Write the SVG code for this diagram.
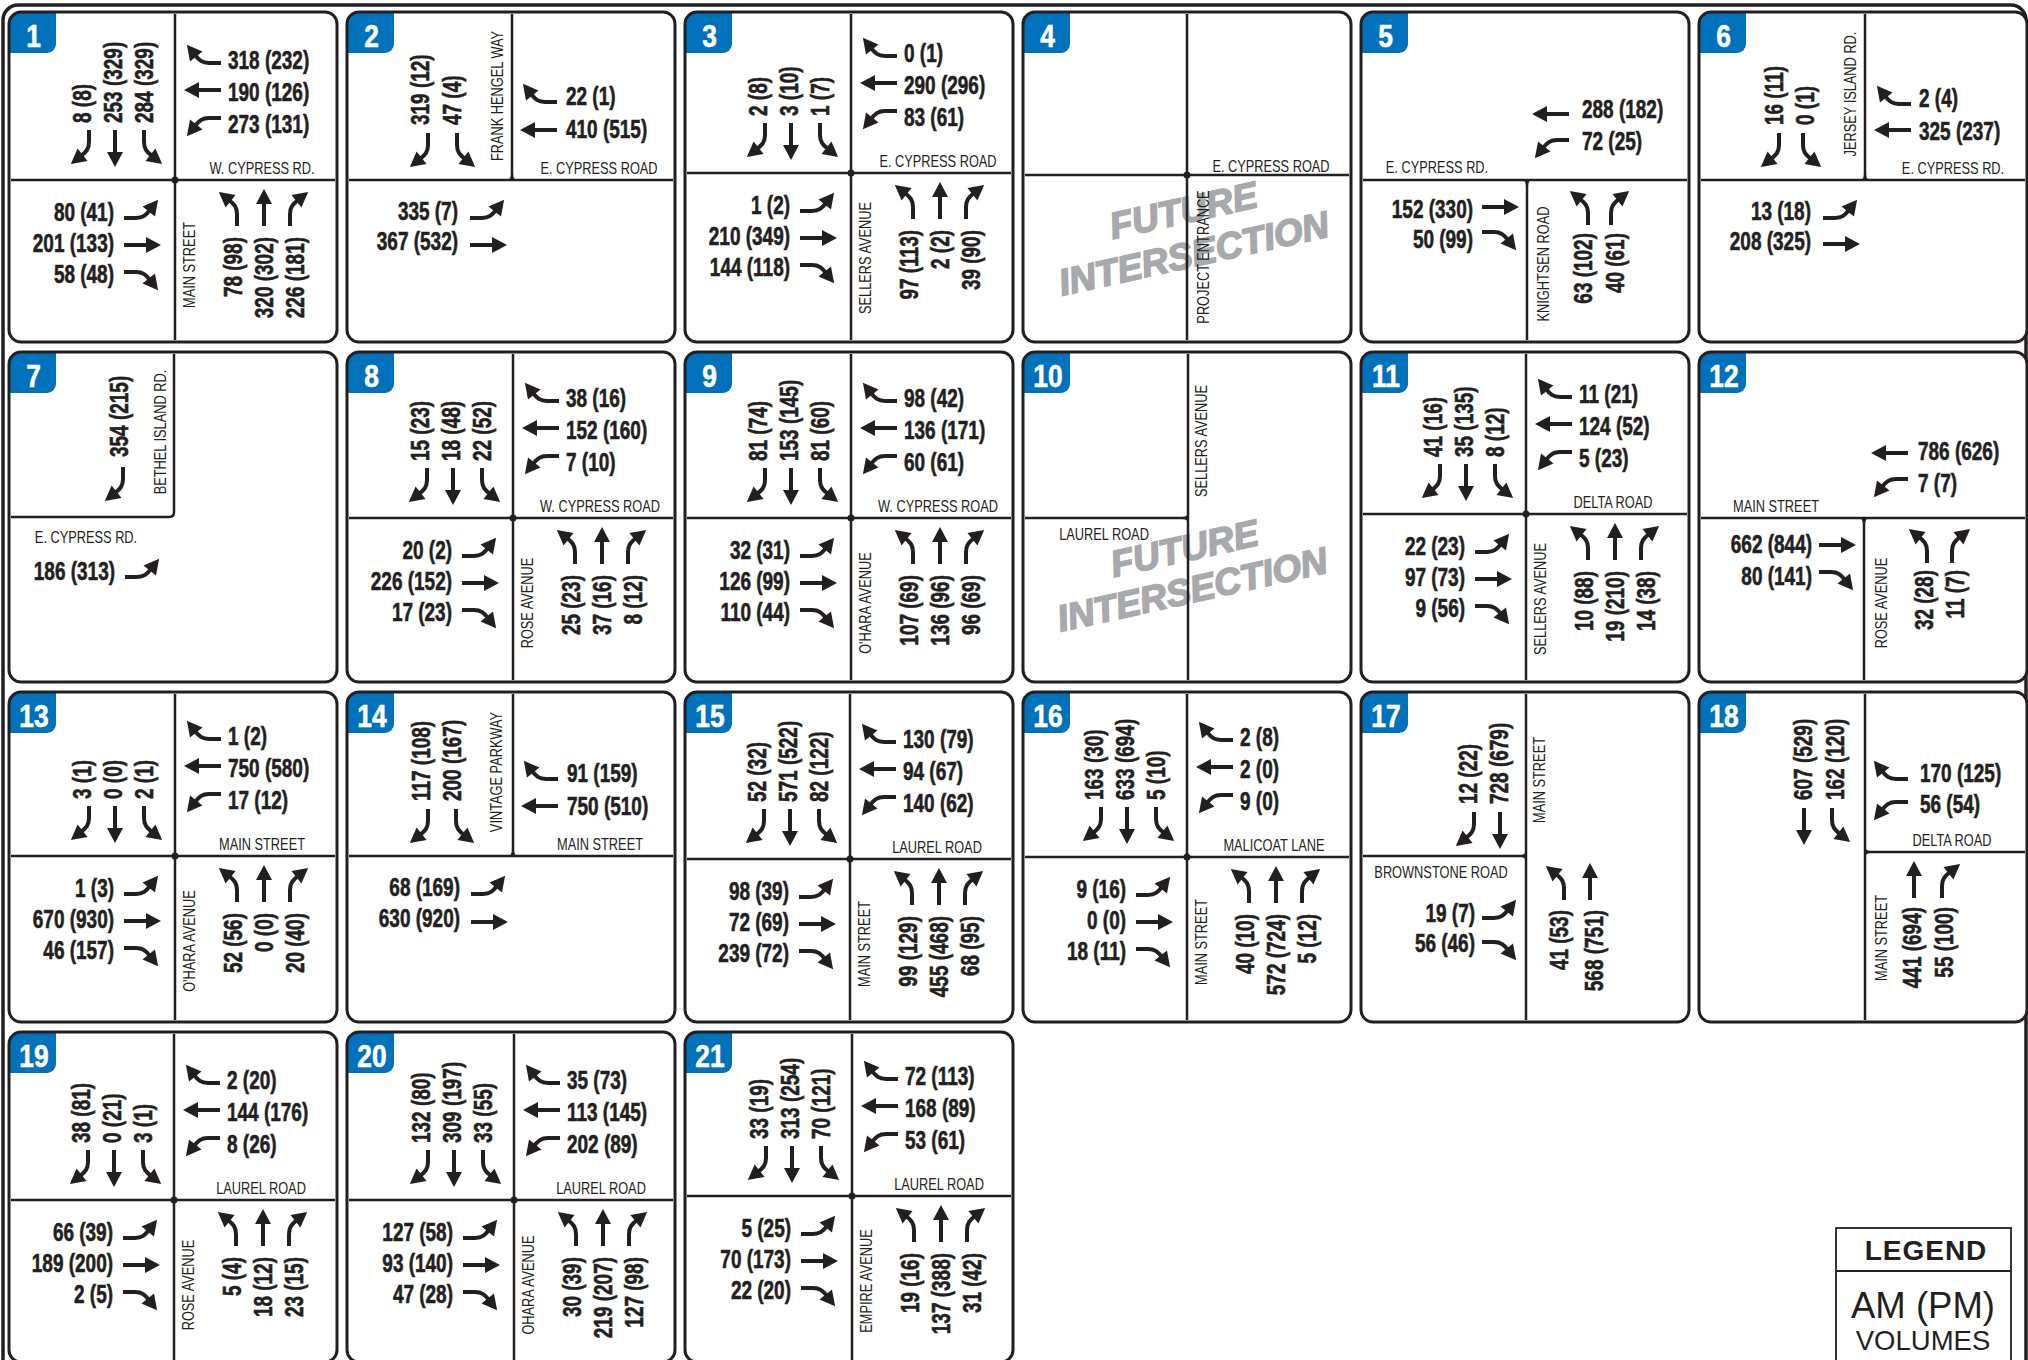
<svg xmlns="http://www.w3.org/2000/svg" width="2028" height="1360" viewBox="0 0 2028 1360">
<style>
.pf{fill:#fff}
.ps{fill:none;stroke:#231f20;stroke-width:3}
.bd{fill:#0072bc}
.bn{font-family:"Liberation Sans",Arial,sans-serif;font-weight:bold;font-size:31px;fill:#fff;stroke:#fff;stroke-width:.6;text-anchor:middle}
.n{font-family:"Liberation Sans",Arial,sans-serif;font-weight:bold;font-size:26px;fill:#231f20;stroke:#231f20;stroke-width:.6}
.e{text-anchor:end}
.r{font-family:"Liberation Sans",Arial,sans-serif;font-size:16px;fill:#231f20;text-anchor:middle}
.rd{fill:none;stroke:#231f20;stroke-width:2.5}
.dot{fill:#231f20}
.a{fill:none;stroke:#231f20;stroke-width:4;marker-end:url(#h)}
.fi{font-family:"Liberation Sans",Arial,sans-serif;font-weight:bold;font-style:italic;font-size:37px;fill:#a7a9ac;stroke:#a7a9ac;stroke-width:1.6;text-anchor:middle}
.lg{font-family:"Liberation Sans",Arial,sans-serif;fill:#231f20;text-anchor:middle}
</style>
<defs>
<marker id="h" markerUnits="userSpaceOnUse" orient="auto" overflow="visible" markerWidth="20" markerHeight="20"><path d="M-2,-8L13,0L-2,8Z" fill="#231f20"/></marker>
<path id="at" class="a" d="M0,0V24"/>
<path id="ar" class="a" d="M0,0V12C0,19 -3,22 -8,26"/>
<path id="al" class="a" d="M0,0V12C0,19 3,22 8,26"/>
<path id="fil" d="M-6,0Q-1,0 -1,-6L1,-6Q1,0 6,0Z" fill="#231f20"/>
<path id="bdg" class="bd" d="M0,12A12,12 0 0 1 12,0H47V32A9,9 0 0 1 38,41H0Z"/>
<g id="a4">
<use href="#ar" x="-86" y="-50"/><use href="#at" x="-60" y="-50"/><use href="#al" x="-31" y="-50"/>
<use href="#ar" transform="translate(46,-117) rotate(90)"/><use href="#at" transform="translate(46,-90) rotate(90)"/><use href="#al" transform="translate(46,-62) rotate(90)"/>
<use href="#al" transform="translate(-51,38) rotate(-90)"/><use href="#at" transform="translate(-51,65) rotate(-90)"/><use href="#ar" transform="translate(-51,92) rotate(-90)"/>
<use href="#al" transform="translate(62,46) rotate(180)"/><use href="#at" transform="translate(89,46) rotate(180)"/><use href="#ar" transform="translate(115,46) rotate(180)"/>
</g>
</defs>
<rect width="2028" height="1360" fill="#fff"/>
<path d="M3,1360V20A15,15 0 0 1 18,5H2011A15,15 0 0 1 2026,20V1360" fill="none" stroke="#231f20" stroke-width="3.5"/>

<g id="n1" transform="translate(9,12)">
<rect class="pf" width="328" height="330" rx="12"/><use href="#bdg"/><text class="bn" transform="translate(24.5,35) scale(.85,1)">1</text>
<g transform="translate(166,168)">
<path class="rd" d="M-164,0H160M0,-166V160"/><circle class="dot" r="3.5"/>
<text class="r" transform="translate(87,-6) scale(.8,1)">W. CYPRESS RD.</text>
<text class="r" transform="translate(20,85) rotate(-90) scale(.8,1)">MAIN STREET</text>
<g class="n" transform="translate(0,-57) rotate(-90) scale(.73,1)"><text y="-84">8 (8)</text><text y="-53">253 (329)</text><text y="-22">284 (329)</text></g>
<g class="n" transform="translate(53,0) scale(.73,1)"><text y="-111">318 (232)</text><text y="-79">190 (126)</text><text y="-47">273 (131)</text></g>
<g class="n e" transform="translate(-61,0) scale(.73,1)"><text y="41">80 (41)</text><text y="72">201 (133)</text><text y="103">58 (48)</text></g>
<g class="n e" transform="translate(0,57) rotate(-90) scale(.73,1)"><text y="67">78 (98)</text><text y="98">320 (302)</text><text y="129">226 (181)</text></g>
<use href="#a4"/>
</g>
<rect class="ps" width="328" height="330" rx="12"/>
</g>

<g id="n2" transform="translate(347,12)">
<rect class="pf" width="328" height="330" rx="12"/><use href="#bdg"/><text class="bn" transform="translate(24.5,35) scale(.85,1)">2</text>
<g transform="translate(165,168)">
<path class="rd" d="M-163,0H161M0,-166V0"/><use href="#fil"/>
<text class="r" transform="translate(-9,-84) rotate(-90) scale(.8,1)">FRANK HENGEL WAY</text>
<text class="r" transform="translate(87,-6) scale(.8,1)">E. CYPRESS ROAD</text>
<g class="n" transform="translate(0,-55) rotate(-90) scale(.73,1)"><text y="-83">319 (12)</text><text y="-51">47 (4)</text></g>
<g class="n" transform="translate(54,0) scale(.73,1)"><text y="-75">22 (1)</text><text y="-42">410 (515)</text></g>
<g class="n e" transform="translate(-54,0) scale(.73,1)"><text y="40">335 (7)</text><text y="70">367 (532)</text></g>
<use href="#ar" x="-84" y="-47"/><use href="#al" x="-55" y="-47"/>
<use href="#ar" transform="translate(45,-78) rotate(90)"/><use href="#at" transform="translate(45,-50) rotate(90)"/>
<use href="#al" transform="translate(-42,38) rotate(-90)"/><use href="#at" transform="translate(-42,65) rotate(-90)"/>
</g>
<rect class="ps" width="328" height="330" rx="12"/>
</g>

<g id="n3" transform="translate(685,12)">
<rect class="pf" width="328" height="330" rx="12"/><use href="#bdg"/><text class="bn" transform="translate(24.5,35) scale(.85,1)">3</text>
<g transform="translate(166,161)">
<path class="rd" d="M-164,0H160M0,-159V167"/><circle class="dot" r="3.5"/>
<text class="r" transform="translate(87,-6) scale(.8,1)">E. CYPRESS ROAD</text>
<text class="r" transform="translate(20,85) rotate(-90) scale(.8,1)">SELLERS AVENUE</text>
<g class="n" transform="translate(0,-57) rotate(-90) scale(.73,1)"><text y="-84">2 (8)</text><text y="-53">3 (10)</text><text y="-22">1 (7)</text></g>
<g class="n" transform="translate(53,0) scale(.73,1)"><text y="-111">0 (1)</text><text y="-79">290 (296)</text><text y="-47">83 (61)</text></g>
<g class="n e" transform="translate(-61,0) scale(.73,1)"><text y="41">1 (2)</text><text y="72">210 (349)</text><text y="103">144 (118)</text></g>
<g class="n e" transform="translate(0,57) rotate(-90) scale(.73,1)"><text y="67">97 (113)</text><text y="98">2 (2)</text><text y="129">39 (90)</text></g>
<use href="#a4"/>
</g>
<rect class="ps" width="328" height="330" rx="12"/>
</g>

<g id="n4" transform="translate(1023,12)">
<rect class="pf" width="328" height="330" rx="12"/><use href="#bdg"/><text class="bn" transform="translate(24.5,35) scale(.85,1)">4</text>
<text class="fi" transform="translate(163,211) rotate(-12.5)">FUTURE</text>
<text class="fi" transform="translate(173.5,254) rotate(-12.5)">INTERSECTION</text>
<g transform="translate(164,163)">
<path class="rd" d="M-162,0H162M0,-161V165"/><circle class="dot" r="3.5"/>
<text class="r" transform="translate(84,-3) scale(.8,1)">E. CYPRESS ROAD</text>
<text class="r" transform="translate(22,82) rotate(-90) scale(.8,1)">PROJECT ENTRANCE</text>
</g>
<rect class="ps" width="328" height="330" rx="12"/>
</g>

<g id="n5" transform="translate(1361,12)">
<rect class="pf" width="328" height="330" rx="12"/><use href="#bdg"/><text class="bn" transform="translate(24.5,35) scale(.85,1)">5</text>
<g transform="translate(166,168)">
<path class="rd" d="M-164,0H160M0,0V160"/><use href="#fil" transform="rotate(180)"/>
<text class="r" transform="translate(-90,-7) scale(.8,1)">E. CYPRESS RD.</text>
<text class="r" transform="translate(22,84) rotate(-90) scale(.8,1)">KNIGHTSEN ROAD</text>
<g class="n" transform="translate(55,0) scale(.73,1)"><text y="-62">288 (182)</text><text y="-30">72 (25)</text></g>
<g class="n e" transform="translate(-54,0) scale(.73,1)"><text y="38">152 (330)</text><text y="68">50 (99)</text></g>
<g class="n e" transform="translate(0,53) rotate(-90) scale(.73,1)"><text y="65">63 (102)</text><text y="97">40 (61)</text></g>
<use href="#at" transform="translate(42,-66) rotate(90)"/><use href="#al" transform="translate(42,-40) rotate(90)"/>
<use href="#at" transform="translate(-45,27) rotate(-90)"/><use href="#ar" transform="translate(-45,52) rotate(-90)"/>
<use href="#al" transform="translate(61,45) rotate(180)"/><use href="#ar" transform="translate(84,45) rotate(180)"/>
</g>
<rect class="ps" width="328" height="330" rx="12"/>
</g>

<g id="n6" transform="translate(1699,12)">
<rect class="pf" width="328" height="330" rx="12"/><use href="#bdg"/><text class="bn" transform="translate(24.5,35) scale(.85,1)">6</text>
<g transform="translate(166,168)">
<path class="rd" d="M-164,0H160M0,-166V0"/><use href="#fil"/>
<text class="r" transform="translate(-9,-86) rotate(-90) scale(.8,1)">JERSEY ISLAND RD.</text>
<text class="r" transform="translate(88,-6) scale(.8,1)">E. CYPRESS RD.</text>
<g class="n" transform="translate(0,-55) rotate(-90) scale(.73,1)"><text y="-82">16 (11)</text><text y="-51">0 (1)</text></g>
<g class="n" transform="translate(54,0) scale(.73,1)"><text y="-73">2 (4)</text><text y="-40">325 (237)</text></g>
<g class="n e" transform="translate(-54,0) scale(.73,1)"><text y="40">13 (18)</text><text y="70">208 (325)</text></g>
<use href="#ar" x="-86" y="-47"/><use href="#al" x="-62" y="-47"/>
<use href="#ar" transform="translate(46,-76) rotate(90)"/><use href="#at" transform="translate(46,-50) rotate(90)"/>
<use href="#al" transform="translate(-42,38) rotate(-90)"/><use href="#at" transform="translate(-42,64) rotate(-90)"/>
</g>
<rect class="ps" width="328" height="330" rx="12"/>
</g>

<g id="n7" transform="translate(9,352)">
<rect class="pf" width="328" height="330" rx="12"/><use href="#bdg"/><text class="bn" transform="translate(24.5,35) scale(.85,1)">7</text>
<g transform="translate(165,165)">
<path class="rd" d="M0,-163V-5Q0,0 -5,0H-163"/>
<text class="r" transform="translate(-8,-85) rotate(-90) scale(.8,1)">BETHEL ISLAND RD.</text>
<text class="r" transform="translate(-88,26) scale(.8,1)">E. CYPRESS RD.</text>
<g class="n" transform="translate(0,-60) rotate(-90) scale(.73,1)"><text y="-46">354 (215)</text></g>
<g class="n e" transform="translate(-59,0) scale(.73,1)"><text y="63">186 (313)</text></g>
<use href="#ar" x="-51" y="-50"/>
<use href="#al" transform="translate(-49,60) rotate(-90)"/>
</g>
<rect class="ps" width="328" height="330" rx="12"/>
</g>

<g id="n8" transform="translate(347,352)">
<rect class="pf" width="328" height="330" rx="12"/><use href="#bdg"/><text class="bn" transform="translate(24.5,35) scale(.85,1)">8</text>
<g transform="translate(166,166)">
<path class="rd" d="M-164,0H160M0,-164V162"/><circle class="dot" r="3.5"/>
<text class="r" transform="translate(87,-6) scale(.8,1)">W. CYPRESS ROAD</text>
<text class="r" transform="translate(20,85) rotate(-90) scale(.8,1)">ROSE AVENUE</text>
<g class="n" transform="translate(0,-57) rotate(-90) scale(.73,1)"><text y="-84">15 (23)</text><text y="-53">18 (48)</text><text y="-22">22 (52)</text></g>
<g class="n" transform="translate(53,0) scale(.73,1)"><text y="-111">38 (16)</text><text y="-79">152 (160)</text><text y="-47">7 (10)</text></g>
<g class="n e" transform="translate(-61,0) scale(.73,1)"><text y="41">20 (2)</text><text y="72">226 (152)</text><text y="103">17 (23)</text></g>
<g class="n e" transform="translate(0,57) rotate(-90) scale(.73,1)"><text y="67">25 (23)</text><text y="98">37 (16)</text><text y="129">8 (12)</text></g>
<use href="#a4"/>
</g>
<rect class="ps" width="328" height="330" rx="12"/>
</g>

<g id="n9" transform="translate(685,352)">
<rect class="pf" width="328" height="330" rx="12"/><use href="#bdg"/><text class="bn" transform="translate(24.5,35) scale(.85,1)">9</text>
<g transform="translate(166,166)">
<path class="rd" d="M-164,0H160M0,-164V162"/><circle class="dot" r="3.5"/>
<text class="r" transform="translate(87,-6) scale(.8,1)">W. CYPRESS ROAD</text>
<text class="r" transform="translate(20,85) rotate(-90) scale(.8,1)">O'HARA AVENUE</text>
<g class="n" transform="translate(0,-57) rotate(-90) scale(.73,1)"><text y="-84">81 (74)</text><text y="-53">153 (145)</text><text y="-22">81 (60)</text></g>
<g class="n" transform="translate(53,0) scale(.73,1)"><text y="-111">98 (42)</text><text y="-79">136 (171)</text><text y="-47">60 (61)</text></g>
<g class="n e" transform="translate(-61,0) scale(.73,1)"><text y="41">32 (31)</text><text y="72">126 (99)</text><text y="103">110 (44)</text></g>
<g class="n e" transform="translate(0,57) rotate(-90) scale(.73,1)"><text y="67">107 (69)</text><text y="98">136 (96)</text><text y="129">96 (69)</text></g>
<use href="#a4"/>
</g>
<rect class="ps" width="328" height="330" rx="12"/>
</g>

<g id="n10" transform="translate(1023,352)">
<rect class="pf" width="328" height="330" rx="12"/><use href="#bdg"/><text class="bn" transform="translate(25,35) scale(.85,1)">10</text>
<text class="fi" transform="translate(164,209) rotate(-12.5)">FUTURE</text>
<text class="fi" transform="translate(172,250) rotate(-12.5)">INTERSECTION</text>
<g transform="translate(165,166)">
<path class="rd" d="M-163,0H0M0,-164V162"/><use href="#fil" transform="rotate(-90)"/>
<text class="r" transform="translate(-84,22) scale(.8,1)">LAUREL ROAD</text>
<text class="r" transform="translate(19,-77) rotate(-90) scale(.8,1)">SELLERS AVENUE</text>
</g>
<rect class="ps" width="328" height="330" rx="12"/>
</g>

<g id="n11" transform="translate(1361,352)">
<rect class="pf" width="328" height="330" rx="12"/><use href="#bdg"/><text class="bn" transform="translate(25,35) scale(.85,1)">11</text>
<g transform="translate(165,162)">
<path class="rd" d="M-163,0H161M0,-160V166"/><circle class="dot" r="3.5"/>
<text class="r" transform="translate(87,-6) scale(.8,1)">DELTA ROAD</text>
<text class="r" transform="translate(20,85) rotate(-90) scale(.8,1)">SELLERS AVENUE</text>
<g class="n" transform="translate(0,-57) rotate(-90) scale(.73,1)"><text y="-84">41 (16)</text><text y="-53">35 (135)</text><text y="-22">8 (12)</text></g>
<g class="n" transform="translate(53,0) scale(.73,1)"><text y="-111">11 (21)</text><text y="-79">124 (52)</text><text y="-47">5 (23)</text></g>
<g class="n e" transform="translate(-61,0) scale(.73,1)"><text y="41">22 (23)</text><text y="72">97 (73)</text><text y="103">9 (56)</text></g>
<g class="n e" transform="translate(0,57) rotate(-90) scale(.73,1)"><text y="67">10 (88)</text><text y="98">19 (210)</text><text y="129">14 (38)</text></g>
<use href="#a4"/>
</g>
<rect class="ps" width="328" height="330" rx="12"/>
</g>

<g id="n12" transform="translate(1699,352)">
<rect class="pf" width="328" height="330" rx="12"/><use href="#bdg"/><text class="bn" transform="translate(25,35) scale(.85,1)">12</text>
<g transform="translate(165,166)">
<path class="rd" d="M-163,0H161M0,0V162"/><use href="#fil" transform="rotate(180)"/>
<text class="r" transform="translate(-88,-6) scale(.8,1)">MAIN STREET</text>
<text class="r" transform="translate(23,85) rotate(-90) scale(.8,1)">ROSE AVENUE</text>
<g class="n" transform="translate(54,0) scale(.73,1)"><text y="-58">786 (626)</text><text y="-26">7 (7)</text></g>
<g class="n e" transform="translate(-52,0) scale(.73,1)"><text y="35">662 (844)</text><text y="67">80 (141)</text></g>
<g class="n e" transform="translate(0,52) rotate(-90) scale(.73,1)"><text y="69">32 (28)</text><text y="100">11 (7)</text></g>
<use href="#at" transform="translate(44,-65) rotate(90)"/><use href="#al" transform="translate(44,-39) rotate(90)"/>
<use href="#at" transform="translate(-45,27) rotate(-90)"/><use href="#ar" transform="translate(-45,54) rotate(-90)"/>
<use href="#al" transform="translate(63,45) rotate(180)"/><use href="#ar" transform="translate(88,45) rotate(180)"/>
</g>
<rect class="ps" width="328" height="330" rx="12"/>
</g>

<g id="n13" transform="translate(9,692)">
<rect class="pf" width="328" height="330" rx="12"/><use href="#bdg"/><text class="bn" transform="translate(25,35) scale(.85,1)">13</text>
<g transform="translate(166,164)">
<path class="rd" d="M-164,0H160M0,-162V164"/><circle class="dot" r="3.5"/>
<text class="r" transform="translate(87,-6) scale(.8,1)">MAIN STREET</text>
<text class="r" transform="translate(20,85) rotate(-90) scale(.8,1)">O'HARA AVENUE</text>
<g class="n" transform="translate(0,-57) rotate(-90) scale(.73,1)"><text y="-84">3 (1)</text><text y="-53">0 (0)</text><text y="-22">2 (1)</text></g>
<g class="n" transform="translate(53,0) scale(.73,1)"><text y="-111">1 (2)</text><text y="-79">750 (580)</text><text y="-47">17 (12)</text></g>
<g class="n e" transform="translate(-61,0) scale(.73,1)"><text y="41">1 (3)</text><text y="72">670 (930)</text><text y="103">46 (157)</text></g>
<g class="n e" transform="translate(0,57) rotate(-90) scale(.73,1)"><text y="67">52 (56)</text><text y="98">0 (0)</text><text y="129">20 (40)</text></g>
<use href="#a4"/>
</g>
<rect class="ps" width="328" height="330" rx="12"/>
</g>

<g id="n14" transform="translate(347,692)">
<rect class="pf" width="328" height="330" rx="12"/><use href="#bdg"/><text class="bn" transform="translate(25,35) scale(.85,1)">14</text>
<g transform="translate(166,164)">
<path class="rd" d="M-164,0H160M0,-162V0"/><use href="#fil"/>
<text class="r" transform="translate(-11,-84) rotate(-90) scale(.8,1)">VINTAGE PARKWAY</text>
<text class="r" transform="translate(87,-6) scale(.8,1)">MAIN STREET</text>
<g class="n" transform="translate(0,-55) rotate(-90) scale(.73,1)"><text y="-83">117 (108)</text><text y="-52">200 (167)</text></g>
<g class="n" transform="translate(54,0) scale(.73,1)"><text y="-74">91 (159)</text><text y="-41">750 (510)</text></g>
<g class="n e" transform="translate(-53,0) scale(.73,1)"><text y="40">68 (169)</text><text y="71">630 (920)</text></g>
<use href="#ar" x="-85" y="-47"/><use href="#al" x="-57" y="-47"/>
<use href="#ar" transform="translate(45,-77) rotate(90)"/><use href="#at" transform="translate(45,-50) rotate(90)"/>
<use href="#al" transform="translate(-42,38) rotate(-90)"/><use href="#at" transform="translate(-42,66) rotate(-90)"/>
</g>
<rect class="ps" width="328" height="330" rx="12"/>
</g>

<g id="n15" transform="translate(685,692)">
<rect class="pf" width="328" height="330" rx="12"/><use href="#bdg"/><text class="bn" transform="translate(25,35) scale(.85,1)">15</text>
<g transform="translate(165,167)">
<path class="rd" d="M-163,0H161M0,-165V161"/><circle class="dot" r="3.5"/>
<text class="r" transform="translate(87,-6) scale(.8,1)">LAUREL ROAD</text>
<text class="r" transform="translate(20,85) rotate(-90) scale(.8,1)">MAIN STREET</text>
<g class="n" transform="translate(0,-57) rotate(-90) scale(.73,1)"><text y="-84">52 (32)</text><text y="-53">571 (522)</text><text y="-22">82 (122)</text></g>
<g class="n" transform="translate(53,0) scale(.73,1)"><text y="-111">130 (79)</text><text y="-79">94 (67)</text><text y="-47">140 (62)</text></g>
<g class="n e" transform="translate(-61,0) scale(.73,1)"><text y="41">98 (39)</text><text y="72">72 (69)</text><text y="103">239 (72)</text></g>
<g class="n e" transform="translate(0,57) rotate(-90) scale(.73,1)"><text y="67">99 (129)</text><text y="98">455 (468)</text><text y="129">68 (95)</text></g>
<use href="#a4"/>
</g>
<rect class="ps" width="328" height="330" rx="12"/>
</g>

<g id="n16" transform="translate(1023,692)">
<rect class="pf" width="328" height="330" rx="12"/><use href="#bdg"/><text class="bn" transform="translate(25,35) scale(.85,1)">16</text>
<g transform="translate(164,165)">
<path class="rd" d="M-162,0H162M0,-163V163"/><circle class="dot" r="3.5"/>
<text class="r" transform="translate(87,-6) scale(.8,1)">MALICOAT LANE</text>
<text class="r" transform="translate(20,85) rotate(-90) scale(.8,1)">MAIN STREET</text>
<g class="n" transform="translate(0,-57) rotate(-90) scale(.73,1)"><text y="-84">163 (30)</text><text y="-53">633 (694)</text><text y="-22">5 (10)</text></g>
<g class="n" transform="translate(53,0) scale(.73,1)"><text y="-111">2 (8)</text><text y="-79">2 (0)</text><text y="-47">9 (0)</text></g>
<g class="n e" transform="translate(-61,0) scale(.73,1)"><text y="41">9 (16)</text><text y="72">0 (0)</text><text y="103">18 (11)</text></g>
<g class="n e" transform="translate(0,57) rotate(-90) scale(.73,1)"><text y="67">40 (10)</text><text y="98">572 (724)</text><text y="129">5 (12)</text></g>
<use href="#a4"/>
</g>
<rect class="ps" width="328" height="330" rx="12"/>
</g>

<g id="n17" transform="translate(1361,692)">
<rect class="pf" width="328" height="330" rx="12"/><use href="#bdg"/><text class="bn" transform="translate(25,35) scale(.85,1)">17</text>
<g transform="translate(165,164)">
<path class="rd" d="M0,-162V164M-163,0H0"/><use href="#fil" transform="rotate(-90)"/>
<text class="r" transform="translate(19,-76) rotate(-90) scale(.8,1)">MAIN STREET</text>
<text class="r" transform="translate(-85,22) scale(.8,1)">BROWNSTONE ROAD</text>
<g class="n" transform="translate(0,-52) rotate(-90) scale(.73,1)"><text y="-49">12 (22)</text><text y="-18">728 (679)</text></g>
<g class="n e" transform="translate(-51,0) scale(.73,1)"><text y="66">19 (7)</text><text y="96">56 (46)</text></g>
<g class="n e" transform="translate(0,54) rotate(-90) scale(.73,1)"><text y="42">41 (53)</text><text y="77">568 (751)</text></g>
<use href="#ar" x="-52" y="-44"/><use href="#at" x="-26" y="-44"/>
<use href="#al" transform="translate(-44,62) rotate(-90)"/><use href="#ar" transform="translate(-44,86) rotate(-90)"/>
<use href="#al" transform="translate(38,44) rotate(180)"/><use href="#at" transform="translate(64,44) rotate(180)"/>
</g>
<rect class="ps" width="328" height="330" rx="12"/>
</g>

<g id="n18" transform="translate(1699,692)">
<rect class="pf" width="328" height="330" rx="12"/><use href="#bdg"/><text class="bn" transform="translate(25,35) scale(.85,1)">18</text>
<g transform="translate(166,160)">
<path class="rd" d="M0,-158V168M0,0H160"/><use href="#fil" transform="rotate(90)"/>
<text class="r" transform="translate(87,-6) scale(.8,1)">DELTA ROAD</text>
<text class="r" transform="translate(22,86) rotate(-90) scale(.8,1)">MAIN STREET</text>
<g class="n" transform="translate(0,-52) rotate(-90) scale(.73,1)"><text y="-53">607 (529)</text><text y="-21">162 (120)</text></g>
<g class="n" transform="translate(55,0) scale(.73,1)"><text y="-70">170 (125)</text><text y="-39">56 (54)</text></g>
<g class="n e" transform="translate(0,55) rotate(-90) scale(.73,1)"><text y="56.5">441 (694)</text><text y="88">55 (100)</text></g>
<use href="#at" x="-61" y="-44"/><use href="#al" x="-33" y="-44"/>
<use href="#ar" transform="translate(43,-73) rotate(90)"/><use href="#al" transform="translate(43,-50) rotate(90)"/>
<use href="#at" transform="translate(49,46) rotate(180)"/><use href="#ar" transform="translate(77,46) rotate(180)"/>
</g>
<rect class="ps" width="328" height="330" rx="12"/>
</g>

<g id="n19" transform="translate(9,1032)">
<rect class="pf" width="328" height="330" rx="12"/><use href="#bdg"/><text class="bn" transform="translate(25,35) scale(.85,1)">19</text>
<g transform="translate(165,168)">
<path class="rd" d="M-163,0H161M0,-166V160"/><circle class="dot" r="3.5"/>
<text class="r" transform="translate(87,-6) scale(.8,1)">LAUREL ROAD</text>
<text class="r" transform="translate(20,85) rotate(-90) scale(.8,1)">ROSE AVENUE</text>
<g class="n" transform="translate(0,-57) rotate(-90) scale(.73,1)"><text y="-84">38 (81)</text><text y="-53">0 (21)</text><text y="-22">3 (1)</text></g>
<g class="n" transform="translate(53,0) scale(.73,1)"><text y="-111">2 (20)</text><text y="-79">144 (176)</text><text y="-47">8 (26)</text></g>
<g class="n e" transform="translate(-61,0) scale(.73,1)"><text y="41">66 (39)</text><text y="72">189 (200)</text><text y="103">2 (5)</text></g>
<g class="n e" transform="translate(0,57) rotate(-90) scale(.73,1)"><text y="67">5 (4)</text><text y="98">18 (12)</text><text y="129">23 (15)</text></g>
<use href="#a4"/>
</g>
<rect class="ps" width="328" height="330" rx="12"/>
</g>

<g id="n20" transform="translate(347,1032)">
<rect class="pf" width="328" height="330" rx="12"/><use href="#bdg"/><text class="bn" transform="translate(25,35) scale(.85,1)">20</text>
<g transform="translate(167,168)">
<path class="rd" d="M-165,0H159M0,-166V160"/><circle class="dot" r="3.5"/>
<text class="r" transform="translate(87,-6) scale(.8,1)">LAUREL ROAD</text>
<text class="r" transform="translate(20,85) rotate(-90) scale(.8,1)">OHARA AVENUE</text>
<g class="n" transform="translate(0,-57) rotate(-90) scale(.73,1)"><text y="-84">132 (80)</text><text y="-53">309 (197)</text><text y="-22">33 (55)</text></g>
<g class="n" transform="translate(53,0) scale(.73,1)"><text y="-111">35 (73)</text><text y="-79">113 (145)</text><text y="-47">202 (89)</text></g>
<g class="n e" transform="translate(-61,0) scale(.73,1)"><text y="41">127 (58)</text><text y="72">93 (140)</text><text y="103">47 (28)</text></g>
<g class="n e" transform="translate(0,57) rotate(-90) scale(.73,1)"><text y="67">30 (39)</text><text y="98">219 (207)</text><text y="129">127 (98)</text></g>
<use href="#a4"/>
</g>
<rect class="ps" width="328" height="330" rx="12"/>
</g>

<g id="n21" transform="translate(685,1032)">
<rect class="pf" width="328" height="330" rx="12"/><use href="#bdg"/><text class="bn" transform="translate(25,35) scale(.85,1)">21</text>
<g transform="translate(167,164)">
<path class="rd" d="M-165,0H159M0,-162V164"/><circle class="dot" r="3.5"/>
<text class="r" transform="translate(87,-6) scale(.8,1)">LAUREL ROAD</text>
<text class="r" transform="translate(20,85) rotate(-90) scale(.8,1)">EMPIRE AVENUE</text>
<g class="n" transform="translate(0,-57) rotate(-90) scale(.73,1)"><text y="-84">33 (19)</text><text y="-53">313 (254)</text><text y="-22">70 (121)</text></g>
<g class="n" transform="translate(53,0) scale(.73,1)"><text y="-111">72 (113)</text><text y="-79">168 (89)</text><text y="-47">53 (61)</text></g>
<g class="n e" transform="translate(-61,0) scale(.73,1)"><text y="41">5 (25)</text><text y="72">70 (173)</text><text y="103">22 (20)</text></g>
<g class="n e" transform="translate(0,57) rotate(-90) scale(.73,1)"><text y="67">19 (16)</text><text y="98">137 (388)</text><text y="129">31 (42)</text></g>
<use href="#a4"/>
</g>
<rect class="ps" width="328" height="330" rx="12"/>
</g>

<g id="legend">
<rect x="1836" y="1228" width="175" height="150" fill="#fff" stroke="#231f20" stroke-width="1.8"/>
<path d="M1836,1271H2011" stroke="#231f20" stroke-width="1.8"/>
<text class="lg" x="1926" y="1260" font-weight="bold" font-size="28" letter-spacing="1">LEGEND</text>
<text class="lg" x="1923" y="1318" font-size="36.5">AM (PM)</text>
<text class="lg" x="1923" y="1350" font-size="27.5">VOLUMES</text>
</g>
</svg>
